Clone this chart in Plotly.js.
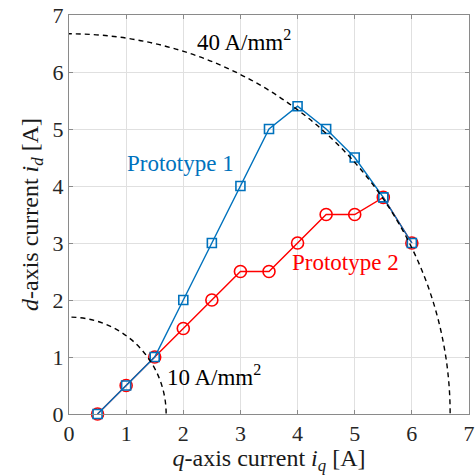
<!DOCTYPE html>
<html>
<head>
<meta charset="utf-8">
<script src="https://cdn.plot.ly/plotly-3.0.1.min.js"></script>
<style>html,body{margin:0;padding:0;background:#fff;}#chart{width:476px;height:475px;}</style>
</head>
<body>
<div id="chart"></div>
<script>
// Data
const iq = [0.5, 1, 1.5, 2, 2.5, 3, 3.5, 4, 4.5, 5, 5.5, 6];
const idProto1 = [0, 0.5, 1, 2, 3, 4, 5, 5.4, 5, 4.5, 3.8, 3];
const idProto2 = [0, 0.5, 1, 1.5, 2, 2.5, 2.5, 3, 3.5, 3.5, 3.8, 3];
const limitRadii = [6.67, 1.70];              // current limit circles [A]
const limitLabels = ['40 A/mm<sup>2</sup>', '10 A/mm<sup>2</sup>'];
const seriesNames = ['Prototype 1', 'Prototype 2'];
const tickVals = [0, 1, 2, 3, 4, 5, 6, 7];

const blue = '#0072BD', red = '#FF0000';
const fontFam = 'Liberation Serif, Times New Roman, serif';

const traces = [
  {x: iq, y: idProto2, type: 'scatter', mode: 'lines+markers', name: seriesNames[1],
   line: {color: red, width: 1.4},
   marker: {symbol: 'circle-open', size: 12, color: red, line: {width: 1.6, color: red}},
   cliponaxis: false},
  {x: iq, y: idProto1, type: 'scatter', mode: 'lines+markers', name: seriesNames[0],
   line: {color: blue, width: 1.4},
   marker: {symbol: 'square-open', size: 9, color: blue, line: {width: 1.6, color: blue}},
   cliponaxis: false}
];

const shapes = limitRadii.map(r => ({
  type: 'circle', xref: 'x', yref: 'y', x0: -r, y0: -r, x1: r, y1: r,
  line: {color: '#000', width: 1.4, dash: '5px,4px'}, layer: 'above'
}));

const ax = {
  range: [0, 7], tickvals: tickVals, showgrid: true, gridcolor: '#e0e0e0', gridwidth: 1,
  zeroline: false, showline: true, linecolor: '#8a8a8a', linewidth: 1, mirror: 'ticks',
  ticks: 'inside', ticklen: 4, tickcolor: '#8a8a8a',
  tickfont: {family: fontFam, size: 22, color: '#262626'}, fixedrange: true
};

const layout = {
  width: 476, height: 475,
  margin: {l: 69, r: 7, t: 15, b: 61},
  paper_bgcolor: '#fff', plot_bgcolor: '#fff',
  showlegend: false,
  font: {family: fontFam},
  xaxis: Object.assign({}, ax, {
    title: {text: '<i>q</i>-axis current <i>i</i><sub><i>q</i></sub> [A]',
            font: {family: fontFam, size: 24, color: '#1a1a1a'}, standoff: 5}
  }),
  yaxis: Object.assign({}, ax, {
    title: {text: '<i>d</i>-axis current <i>i</i><sub><i>d</i></sub> [A]',
            font: {family: fontFam, size: 24, color: '#1a1a1a'}, standoff: 7}
  }),
  shapes: shapes,
  annotations: [
    {x: 2.2, y: 6.55, xref: 'x', yref: 'y', text: limitLabels[0], showarrow: false,
     xanchor: 'left', yanchor: 'middle', font: {family: fontFam, size: 23, color: '#000'}},
    {x: 1.68, y: 0.68, xref: 'x', yref: 'y', text: limitLabels[1], showarrow: false,
     xanchor: 'left', yanchor: 'middle', font: {family: fontFam, size: 23, color: '#000'}},
    {x: 0.98, y: 4.4, xref: 'x', yref: 'y', text: seriesNames[0], showarrow: false,
     xanchor: 'left', yanchor: 'middle', font: {family: fontFam, size: 23, color: blue}},
    {x: 3.87, y: 2.65, xref: 'x', yref: 'y', text: seriesNames[1], showarrow: false,
     xanchor: 'left', yanchor: 'middle', font: {family: fontFam, size: 23, color: red}}
  ]
};

Plotly.newPlot('chart', traces, layout, {staticPlot: true, displayModeBar: false});
</script>
</body>
</html>
